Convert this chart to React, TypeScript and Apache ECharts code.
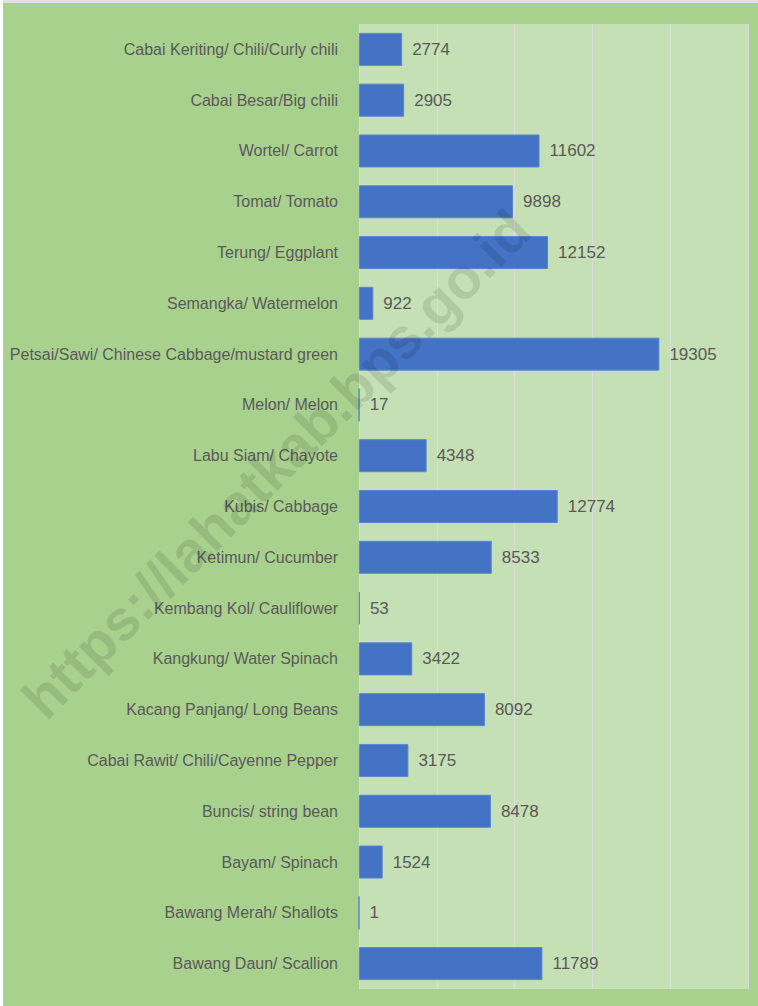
import React, { useEffect, useRef } from "react";
import * as echarts from "echarts";

const categories = [
  "Cabai Keriting/ Chili/Curly chili",
  "Cabai Besar/Big chili",
  "Wortel/ Carrot",
  "Tomat/ Tomato",
  "Terung/ Eggplant",
  "Semangka/ Watermelon",
  "Petsai/Sawi/ Chinese Cabbage/mustard green",
  "Melon/ Melon",
  "Labu Siam/ Chayote",
  "Kubis/ Cabbage",
  "Ketimun/ Cucumber",
  "Kembang Kol/ Cauliflower",
  "Kangkung/ Water Spinach",
  "Kacang Panjang/ Long Beans",
  "Cabai Rawit/ Chili/Cayenne Pepper",
  "Buncis/ string bean",
  "Bayam/ Spinach",
  "Bawang Merah/ Shallots",
  "Bawang Daun/ Scallion",
];

const values = [
  2774, 2905, 11602, 9898, 12152, 922, 19305, 17, 4348, 12774, 8533, 53, 3422,
  8092, 3175, 8478, 1524, 1, 11789,
];

const watermark = "https://lahatkab.bps.go.id";

export default function App() {
  const ref = useRef<HTMLDivElement>(null);
  useEffect(() => {
    if (!ref.current) return;
    const chart = echarts.init(ref.current, null, { renderer: "svg" });
    chart.setOption({
      animation: false,
      backgroundColor: "#a9d18e",
      grid: {
        left: 359,
        top: 24,
        width: 389,
        height: 965,
        show: true,
        backgroundColor: "#c5e0b4",
        borderWidth: 0,
      },
      xAxis: {
        type: "value",
        min: 0,
        max: 25000,
        interval: 5000,
        axisLabel: { show: false },
        axisLine: { show: false },
        axisTick: { show: false },
        splitLine: { show: true, lineStyle: { color: "#dcdcdc", width: 1 } },
      },
      yAxis: {
        type: "category",
        data: categories,
        inverse: true,
        axisLine: { show: false },
        axisTick: { show: false },
        axisLabel: {
          color: "#595959",
          fontFamily: "Liberation Sans",
          fontSize: 16,
          margin: 21,
        },
      },
      series: [
        {
          type: "bar",
          data: values,
          barCategoryGap: "35%",
          itemStyle: { color: "#4472c4", borderColor: "#5a86d0", borderWidth: 1 },
          label: {
            show: true,
            position: "right",
            distance: 10,
            color: "#595959",
            fontFamily: "Liberation Sans",
            fontSize: 17,
          },
        },
      ],
      graphic: [
        {
          type: "rect",
          left: 0,
          top: 0,
          shape: { width: 758, height: 3 },
          style: { fill: "#e0e0e0" },
          z: 10,
        },
        {
          type: "rect",
          left: 0,
          top: 0,
          shape: { width: 3, height: 1006 },
          style: { fill: "#ffffff" },
          z: 10,
        },
        {
          type: "text",
          x: 276,
          y: 464,
          rotation: Math.PI / 4,
          z: 20,
          style: {
            text: watermark,
            fill: "rgba(0,0,0,0.1)",
            font: "bold 57px 'Liberation Sans'",
            align: "center",
            verticalAlign: "middle",
          },
        },
      ],
    });
    return () => chart.dispose();
  }, []);
  return (
    <div
      ref={ref}
      style={{ position: "fixed", left: 0, top: 0, width: 758, height: 1006 }}
    />
  );
}
